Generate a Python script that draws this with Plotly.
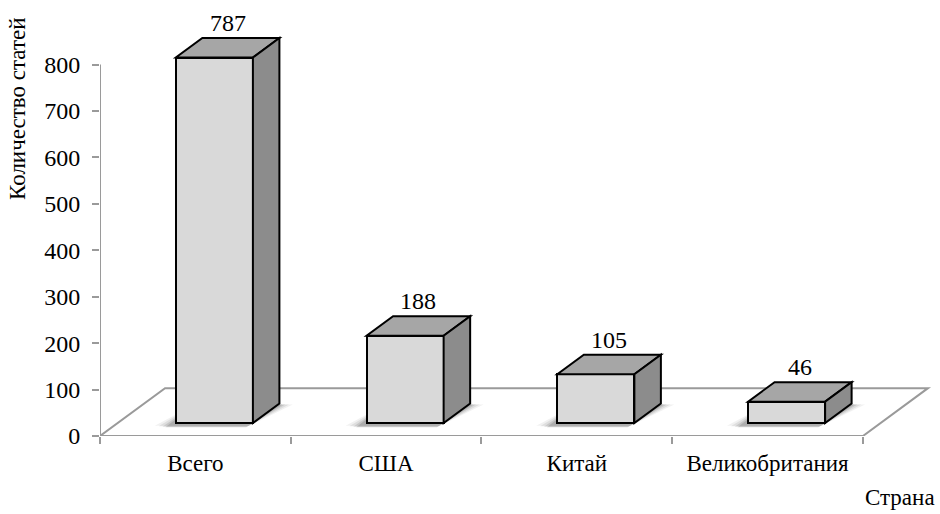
import plotly.graph_objects as go

categories = ["Всего", "США", "Китай", "Великобритания"]
values = [787, 188, 105, 46]
y_ticks = [0, 100, 200, 300, 400, 500, 600, 700, 800]
y_title = "Количество статей"
x_title = "Страна"

# ---- pseudo-3D geometry (style constants, in axis units) ----
BAR_W = 0.404      # bar width (category units)
FRONT_DX = 0.0996  # shift of bar front plane into depth (x)
FRONT_DY = 28      # shift of bar front plane into depth (y)
BAR_DX = 0.139     # bar depth (x)
BAR_DY = 42        # bar depth (y)
FLOOR_DX = 0.341
FLOOR_DY = 103

FRONT_COL = "#D9D9D9"
TOP_COL = "#A6A6A6"
SIDE_COL = "#8C8C8C"
AXIS_COL = "#9A9A9A"
FONT = "Liberation Serif"

fig = go.Figure()

fig.add_trace(go.Bar(
    x=categories, y=values, base=FRONT_DY,
    width=BAR_W, offset=FRONT_DX - BAR_W / 2,
    marker=dict(color=FRONT_COL, line=dict(color="black", width=2)),
    hoverinfo="skip", showlegend=False,
))

shapes = []
n = len(categories)
# soft shadows on the floor
for i, v in enumerate(values):
    L = i - BAR_W / 2 + FRONT_DX
    R = L + BAR_W
    b = FRONT_DY
    for k, (ex, op) in enumerate([(0.07, 0.07), (0.05, 0.10), (0.03, 0.14), (0.015, 0.18)]):
        sx = -0.04
        shapes.append(dict(
            type="path", xref="x", yref="y", layer="below",
            path=(f"M {L - ex + sx},{b - 6 - k} L {R + ex * 0.3 + sx},{b - 6 - k} "
                  f"L {R + BAR_DX + ex},{b + BAR_DY - 2} L {L + BAR_DX + sx},{b + BAR_DY - 2} Z"),
            fillcolor=f"rgba(60,60,60,{op})", line=dict(width=0),
        ))

# floor
x0, x1 = -0.5, n - 0.5
shapes.append(dict(
    type="path", xref="x", yref="y", layer="below",
    path=(f"M {x0},0 L {x1},0 L {x1 + FLOOR_DX},{FLOOR_DY} "
          f"L {x0 + FLOOR_DX},{FLOOR_DY} Z"),
    line=dict(color=AXIS_COL, width=2), fillcolor="rgba(0,0,0,0)",
))
# y axis line
shapes.append(dict(
    type="line", xref="x", yref="y", layer="below",
    x0=x0, x1=x0, y0=y_ticks[0], y1=y_ticks[-1],
    line=dict(color=AXIS_COL, width=2),
))

annotations = []
for i, v in enumerate(values):
    L = i - BAR_W / 2 + FRONT_DX
    R = L + BAR_W
    top = FRONT_DY + v
    shapes.append(dict(
        type="path", xref="x", yref="y", layer="above",
        path=(f"M {L},{top} L {R},{top} L {R + BAR_DX},{top + BAR_DY} "
              f"L {L + BAR_DX},{top + BAR_DY} Z"),
        fillcolor=TOP_COL, line=dict(color="black", width=2),
    ))
    shapes.append(dict(
        type="path", xref="x", yref="y", layer="above",
        path=(f"M {R},{FRONT_DY} L {R},{top} L {R + BAR_DX},{top + BAR_DY} "
              f"L {R + BAR_DX},{FRONT_DY + BAR_DY} Z"),
        fillcolor=SIDE_COL, line=dict(color="black", width=2),
    ))
    annotations.append(dict(
        x=(L + R) / 2 + BAR_DX / 2, y=top + BAR_DY, xref="x", yref="y",
        text=str(v), showarrow=False, yanchor="bottom", yshift=0,
        font=dict(family=FONT, size=24, color="black"),
    ))

annotations.append(dict(
    x=18, y=109, xref="paper", yref="paper", text=y_title, showarrow=False,
    xanchor="center", yanchor="middle",
    textangle=-90, font=dict(family=FONT, size=23, color="black"),
))
annotations.append(dict(
    x=937, y=498, xref="paper", yref="paper", text=x_title, showarrow=False,
    xanchor="right", yanchor="middle", font=dict(family=FONT, size=23, color="black"),
))

# convert the two pixel-placed annotations to paper coords
W, H = 940, 514
ML, MR, MT, MB = 100, 8, 32, 78
pw, ph = W - ML - MR, H - MT - MB
for a in annotations[-2:]:
    a["x"] = (a["x"] - ML) / pw
    a["y"] = (H - MB - a["y"]) / ph

fig.update_layout(
    width=W, height=H,
    margin=dict(l=ML, r=MR, t=MT, b=MB, autoexpand=False),
    paper_bgcolor="white", plot_bgcolor="white",
    shapes=shapes, annotations=annotations,
    bargap=0,
    xaxis=dict(
        type="category", range=[-0.5, 3.862], tickson="boundaries",
        ticks="outside", ticklen=7, tickwidth=2, tickcolor=AXIS_COL,
        showline=False, showgrid=False, zeroline=False, automargin=False,
        ticklabelstandoff=11,
        tickfont=dict(family=FONT, size=23, color="black"),
    ),
    yaxis=dict(
        range=[0, 870], tickvals=y_ticks, ticks="outside", ticklen=7,
        tickwidth=2, tickcolor=AXIS_COL, showline=False, showgrid=False,
        zeroline=False, automargin=False, ticklabelstandoff=7,
        tickfont=dict(family=FONT, size=24, color="black"),
    ),
)

fig.write_html("out.html", config={"displayModeBar": False},
               post_script="document.body.style.margin='0';")
